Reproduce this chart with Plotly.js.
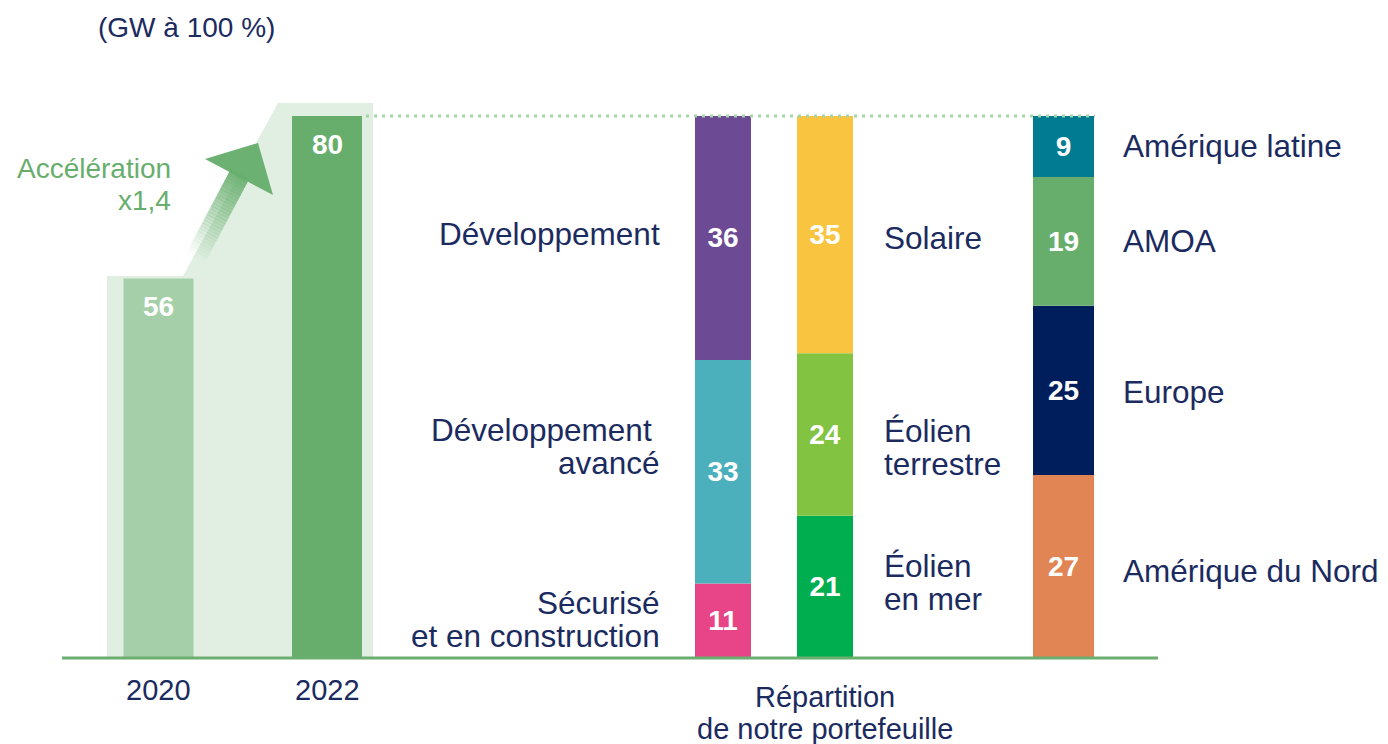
<!DOCTYPE html>
<html>
<head>
<meta charset="utf-8">
<script src="https://cdn.plot.ly/plotly-3.0.1.min.js"></script>
<style>html,body{margin:0;padding:0;background:#fff;}#chart{width:1388px;height:744px;}</style>
</head>
<body>
<div id="chart"></div>
<script>
// ---------- DATA ----------
const years = ['2020', '2022'];
const capacityGW = [56, 80];

const stageLines = [['Sécurisé', 'et en construction'], ['Développement\u00a0', 'avancé'], ['Développement']];
const stageValues = [11, 33, 36];

const techLines = [['Éolien', 'en mer'], ['Éolien', 'terrestre'], ['Solaire']];
const techValues = [21, 24, 35];

const regionLines = [['Amérique du Nord'], ['Europe'], ['AMOA'], ['Amérique latine']];
const regionValues = [27, 25, 19, 9];

const titleText = '(GW à 100 %)';
const accelLines = ['Accélération', 'x1,4'];
const portfolioLines = ['Répartition', 'de notre portefeuille'];

// ---------- STYLE / LAYOUT CONSTANTS ----------
const W = 1388, H = 744;
const FONT = 'Liberation Sans, Arial, Helvetica, sans-serif';
const NAVY = '#1b2b5f';
const GREEN = '#67ae6d';
const yearColors = ['#a5cfa8', '#67ae6d'];
const stageColors = ['#e84488', '#4bb0bb', '#6c4a94'];
const techColors = ['#00ae4f', '#82c341', '#f9c440'];
const regionColors = ['#e08553', '#001e5c', '#67ae6d', '#007b91'];

const yearPos = [158.5, 327], yearWidth = 70;
const stagePos = 723, techPos = 825, regionPos = 1063.5;
const stackWidth = 56, regionWidth = 61;

const basePx = 658, topPx = 116; // pixel rows of 0 and of max value
const maxVal = 80;
const s = (basePx - topPx) / maxVal;
const yRange = [-(H - basePx) / s, maxVal + topPx / s];

const PX = p => p / W;             // pixel x -> paper
const PY = p => 1 - p / H;         // pixel y -> paper

function cumBase(vals) { const b = []; let c = 0; vals.forEach(v => { b.push(c); c += v; }); return b; }

function stackTrace(x, w, vals, colors) {
  return {
    type: 'bar', x: vals.map(() => x), y: vals, base: cumBase(vals),
    width: vals.map(() => w),
    marker: { color: colors, line: { width: 0 } },
    text: vals.map(String), textposition: 'inside', insidetextanchor: 'middle',
    constraintext: 'none', textangle: 0,
    textfont: { family: FONT, size: 28, color: '#ffffff', weight: 700 },
    hoverinfo: 'skip', showlegend: false
  };
}

const traces = [
  {
    type: 'bar', x: yearPos, y: capacityGW, width: yearPos.map(() => yearWidth),
    marker: { color: yearColors, line: { width: 0 } },
    hoverinfo: 'skip', showlegend: false
  },
  stackTrace(stagePos, stackWidth, stageValues, stageColors),
  stackTrace(techPos, stackWidth, techValues, techColors),
  stackTrace(regionPos, regionWidth, regionValues, regionColors)
];

// ---------- ANNOTATIONS ----------
const ann = [];
function txt(text, x, y, opts) {
  ann.push(Object.assign({
    text: text, x: x, y: y, xref: 'paper', yref: 'paper', showarrow: false,
    xanchor: 'left', yanchor: 'middle', borderpad: 0,
    font: { family: FONT, size: 31.5, color: NAVY }
  }, opts || {}));
}

txt(titleText, PX(97), PY(28), { font: { family: FONT, size: 28, color: NAVY } });
txt(accelLines[0], PX(172), PY(168), { xanchor: 'right', font: { family: FONT, size: 28, color: GREEN } });
txt(accelLines[1], PX(172), PY(200), { xanchor: 'right', font: { family: FONT, size: 28, color: GREEN } });

// values on the two capacity bars (near top) and year labels below the baseline
capacityGW.forEach((v, i) => {
  ann.push({ text: String(v), x: yearPos[i], y: v, xref: 'x', yref: 'y', showarrow: false,
    xanchor: 'center', yanchor: 'middle', yshift: -28,
    font: { family: FONT, size: 28, color: '#ffffff', weight: 700 } });
  ann.push({ text: years[i], x: yearPos[i], y: 0, xref: 'x', yref: 'y', showarrow: false,
    xanchor: 'center', yanchor: 'middle', yshift: -32,
    font: { family: FONT, size: 29, color: NAVY } });
});

// segment labels: centred on segment, lines spaced 33px, with small per-label offsets
const LINE = 33;
function segLabels(lines, vals, x, anchor, offsets) {
  const b = cumBase(vals);
  vals.forEach((v, i) => {
    const mid = b[i] + v / 2;
    const n = lines[i].length;
    lines[i].forEach((ln, j) => {
      const shift = -((j - (n - 1) / 2) * LINE) - (offsets[i] || 0);
      ann.push({ text: ln, x: x, y: mid, xref: 'x', yref: 'y', showarrow: false,
        xanchor: anchor, yanchor: 'middle', yshift: shift, borderpad: 0,
        font: { family: FONT, size: 31.5, color: NAVY } });
    });
  });
}
segLabels(stageLines, stageValues, 661, 'right', [-1, -25, -4]);
segLabels(techLines, techValues, 883, 'left', [-4, 13, 3]);
segLabels(regionLines, regionValues, 1122, 'left', [4, 2, 0, 0]);

txt(portfolioLines[0], PX(825), PY(697), { xanchor: 'center', font: { family: FONT, size: 29, color: NAVY } });
txt(portfolioLines[1], PX(825), PY(729), { xanchor: 'center', font: { family: FONT, size: 29, color: NAVY } });

// ---------- SHAPES ----------
const shapes = [];
function poly(pts) { return 'M' + pts.map(p => PX(p[0]).toFixed(5) + ',' + PY(p[1]).toFixed(5)).join(' L') + ' Z'; }

// light green step background
shapes.push({ type: 'path', xref: 'paper', yref: 'paper', layer: 'below',
  path: poly([[107, 658], [107, 276], [183, 276], [278, 103], [373, 103], [373, 658]]),
  fillcolor: '#e1efe2', line: { width: 0 } });

// gradient arrow (shaft split in bands of growing opacity)
const tail = [195, 259], head = [240, 174], half = 10.5;
const dx = head[0] - tail[0], dy = head[1] - tail[1];
const len = Math.hypot(dx, dy), ux = dx / len, uy = dy / len, nx = -uy, ny = ux;
const N = 30;
for (let k = 0; k < N; k++) {
  const t0 = k / N, t1 = (k + 1) / N + 0.004;
  const a = [tail[0] + dx * t0, tail[1] + dy * t0], b = [tail[0] + dx * Math.min(t1, 1), tail[1] + dy * Math.min(t1, 1)];
  const op = Math.pow((k + 0.5) / N, 1.1) * 0.95;
  shapes.push({ type: 'path', xref: 'paper', yref: 'paper', layer: 'below',
    path: poly([[a[0] + nx * half, a[1] + ny * half], [b[0] + nx * half, b[1] + ny * half],
                [b[0] - nx * half, b[1] - ny * half], [a[0] - nx * half, a[1] - ny * half]]),
    fillcolor: 'rgba(103,174,109,' + op.toFixed(3) + ')', line: { width: 0 } });
}
shapes.push({ type: 'path', xref: 'paper', yref: 'paper', layer: 'below',
  path: poly([[205, 159], [258, 143], [273, 195]]),
  fillcolor: 'rgba(103,174,109,0.97)', line: { width: 0 } });

// dotted reference line at top value
shapes.push({ type: 'line', xref: 'paper', yref: 'y', x0: PX(366), x1: PX(1095), y0: maxVal, y1: maxVal,
  line: { color: '#a6d4aa', width: 3, dash: '3px,5px' }, layer: 'above' });
// baseline
shapes.push({ type: 'line', xref: 'paper', yref: 'y', x0: PX(62), x1: PX(1158), y0: 0, y1: 0,
  line: { color: '#6aae70', width: 3 }, layer: 'above' });

const layout = {
  width: W, height: H, margin: { l: 0, r: 0, t: 0, b: 0 },
  paper_bgcolor: '#ffffff', plot_bgcolor: '#ffffff',
  barmode: 'overlay', showlegend: false,
  xaxis: { range: [0, W], visible: false, fixedrange: true },
  yaxis: { range: yRange, visible: false, fixedrange: true },
  font: { family: FONT, color: NAVY },
  annotations: ann, shapes: shapes
};

Plotly.newPlot('chart', traces, layout, { staticPlot: true, displayModeBar: false });
</script>
</body>
</html>
